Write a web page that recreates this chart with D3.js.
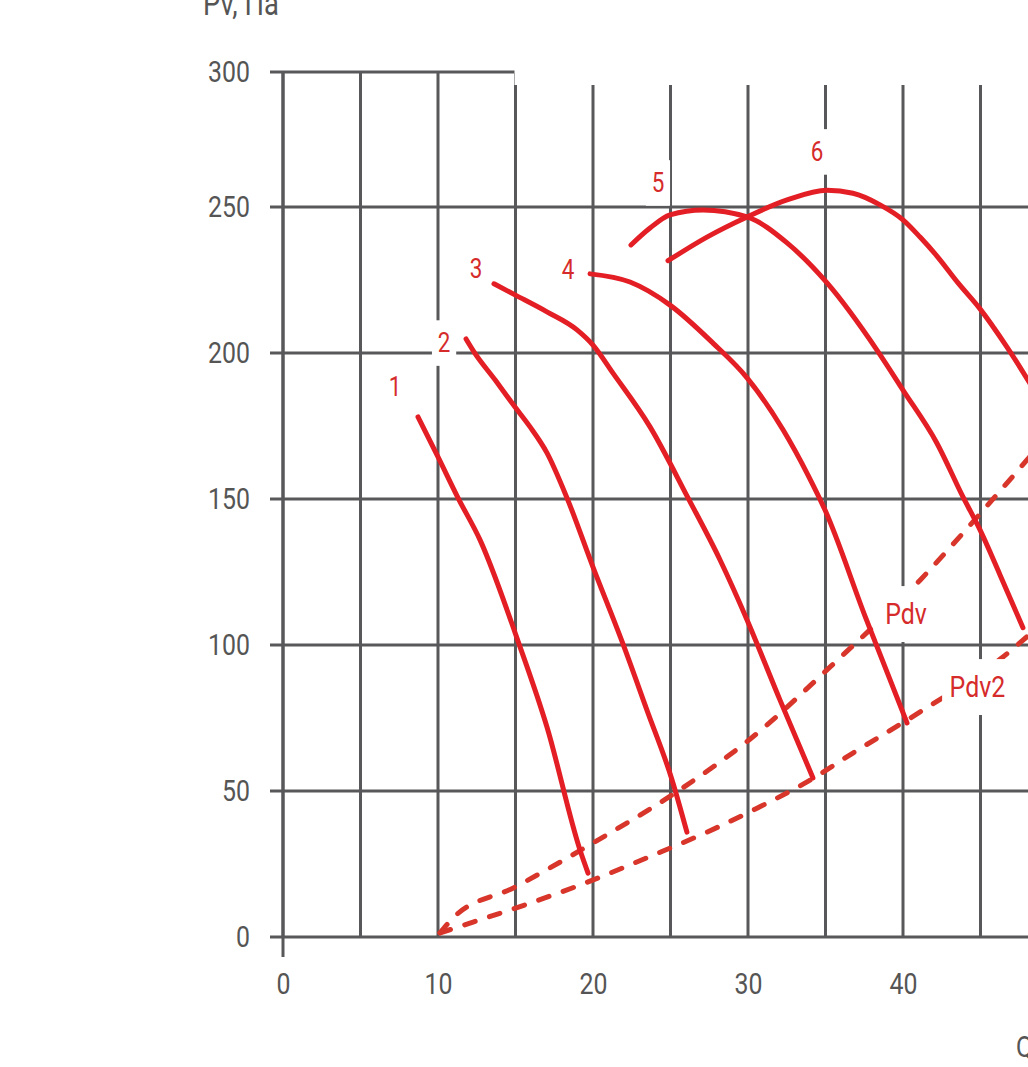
<!DOCTYPE html>
<html>
<head>
<meta charset="utf-8">
<script src="https://cdn.jsdelivr.net/npm/d3@7"></script>
<style>
  body { margin: 0; background: #fff; }
  svg { display: block; }
</style>
</head>
<body>
<div id="wrapper"></div>
<script>
// fan curves, Q (x) vs Pv (y, Pa)
const curve1 = [[8.71,178.1],[10,164.4],[11.29,150.4],[12.71,136.0],[15.23,100.3],[17.03,71.9],[19.16,29.8],[19.68,21.9]];
const curve2 = [[11.81,204.8],[12.32,200.4],[13.68,190.8],[14.97,181.5],[15.94,174.7],[17.03,165.8],[18.32,150.4],[20,126.7],[21.94,100.3],[23.48,77.7],[25.1,53.8],[26.06,35.9]];
const curve3 = [[13.61,223.7],[14.97,219.9],[17.03,214.1],[18.97,207.9],[20,202.7],[21.29,193.1],[23.68,174.7],[26.13,150.4],[28.19,129.2],[29.94,108.6],[32.06,81.2],[34.19,54.5]];
const curve4 = [[19.81,227.1],[22.39,224.3],[24.97,216.4],[27.74,203.4],[29.94,191.5],[32.26,173.7],[33.87,158.2],[34.97,146.2],[37.55,109.9],[40.26,73.3]];
const curve5 = [[22.45,237.0],[23.68,242.8],[24.97,247.3],[27.1,249.0],[29.94,246.6],[32.52,237.7],[35.1,224.0],[38.32,201.0],[40,187.3],[42.19,169.1],[43.87,150.7],[44.97,139.4],[46.26,124.0],[47.74,105.9]];
const curve6 = [[24.84,231.6],[27.35,239.7],[29.94,246.6],[32.52,252.6],[35.1,256.2],[36.77,255.1],[38.52,250.8],[40,245.6],[41.1,239.7],[42.19,233.2],[43.55,224.0],[44.97,215.1],[46.71,202.0],[48.84,184.0]];
const pdv  = [[10.13,1.4],[10.97,6.5],[14.97,17.1],[20,32.2],[25.6,50.4],[30.3,68.5],[35.3,92.5],[41.1,122.2],[44.5,142.1],[48,163.4],[50,175.8]];
const pdv2 = [[10.13,1.4],[12.26,5.1],[15.61,11.0],[19.16,17.8],[23.87,28.0],[27.35,35.9],[30.58,44.1],[33.81,53.1],[36.77,63.0],[41.29,77.7],[46.45,95.9],[48.8,106.6]];

const curveNames = ["1", "2", "3", "4", "5", "6"];
const curveLabelAt = [[7.23,188.4],[10.39,203.4],[12.45,228.8],[18.39,228.5],[24.19,258.9],[34.45,270.4]];
const lineNames = ["Pdv", "Pdv2"];
const lineLabelAt = [[40.2,110.6],[44.8,85.6]];

const xTicks = [0, 10, 20, 30, 40, 50];
const yTicks = [0, 50, 100, 150, 200, 250, 300];
const xGrid = d3.range(0, 51, 5);

const width = 1028, height = 1067;
const font = "Roboto, 'DejaVu Sans Condensed', sans-serif";
const sx = 0.83; // squeeze to mimic a condensed face
const gridColor = "#58585a";
const textColor = "#555";
const red = "#e31e25";
const redDash = "#d8352b";

const svg = d3.select("#wrapper")
  .append("svg")
  .attr("width", width)
  .attr("height", height);

const x = d3.scaleLinear().domain([0, 50]).range([283, 1058]);
// the scan has a shorter top band (250-300)
const y = d3.scaleLinear().domain([0, 250, 300]).range([937, 207, 72]);

// grid
svg.append("g")
  .selectAll("line")
  .data(xGrid)
  .join("line")
  .attr("x1", d => x(d)).attr("x2", d => x(d))
  .attr("y1", y(300)).attr("y2", y(0))
  .attr("stroke", gridColor).attr("stroke-width", 3);

svg.append("g")
  .selectAll("line")
  .data(yTicks)
  .join("line")
  .attr("x1", x(0) - 13).attr("x2", width + 40)
  .attr("y1", d => y(d)).attr("y2", d => y(d))
  .attr("stroke", gridColor).attr("stroke-width", 3);

// y axis line runs a bit below zero
svg.append("line")
  .attr("x1", x(0)).attr("x2", x(0))
  .attr("y1", y(300)).attr("y2", y(0) + 20)
  .attr("stroke", gridColor).attr("stroke-width", 3);

// blank strip at the top right of the scan
svg.append("rect")
  .attr("x", x(15) - 1).attr("y", 0)
  .attr("width", width).attr("height", 85)
  .attr("fill", "#fff");

// tick labels through d3 axes
const yAxis = svg.append("g")
  .attr("transform", `translate(${x(0)},0)`)
  .call(d3.axisLeft(y).tickValues(yTicks).tickSize(0).tickPadding(33));
const xAxis = svg.append("g")
  .attr("transform", `translate(0,${y(0)})`)
  .call(d3.axisBottom(x).tickValues(xTicks).tickSize(0).tickPadding(36));
[yAxis, xAxis].forEach(a => {
  a.select(".domain").remove();
  a.selectAll("text")
    .attr("font-family", font)
    .attr("font-size", 30)
    .attr("fill", textColor)
    .attr("x", function () { return (+this.getAttribute("x") || 0) / sx; })
    .attr("transform", `scale(${sx},1)`);
});

svg.append("text")
  .attr("transform", `translate(203,15) scale(${sx},1)`)
  .attr("font-family", font).attr("font-size", 33).attr("fill", textColor)
  .text("Pv, Па");

svg.append("text")
  .attr("transform", `translate(1016,1057) scale(${sx},1)`)
  .attr("font-family", font).attr("font-size", 30).attr("fill", textColor)
  .text("Q, м³/ч");

const line = d3.line()
  .x(d => x(d[0]))
  .y(d => y(d[1]))
  .curve(d3.curveMonotoneX);

// system lines (dashed)
svg.append("g")
  .selectAll("path")
  .data([pdv, pdv2])
  .join("path")
  .attr("d", line)
  .attr("fill", "none")
  .attr("stroke", redDash)
  .attr("stroke-width", 5)
  .attr("stroke-linecap", "round")
  .attr("stroke-dasharray", "11 15");

// fan curves
svg.append("g")
  .selectAll("path")
  .data([curve1, curve2, curve3, curve4, curve5, curve6])
  .join("path")
  .attr("d", line)
  .attr("fill", "none")
  .attr("stroke", red)
  .attr("stroke-width", 5)
  .attr("stroke-linecap", "round");

// labels with white boxes
function addLabel(txt, pos, size, padX, padY) {
  const g = svg.append("g")
    .attr("transform", `translate(${x(pos[0])},${y(pos[1])}) scale(${sx},1)`);
  const t = g.append("text")
    .attr("text-anchor", "middle")
    .attr("dominant-baseline", "central")
    .attr("font-family", font)
    .attr("font-size", size)
    .attr("fill", "#d62b2b")
    .text(txt);
  const b = t.node().getBBox();
  g.insert("rect", "text")
    .attr("x", b.x - padX).attr("y", b.y - padY)
    .attr("width", b.width + 2 * padX).attr("height", b.height + 2 * padY)
    .attr("fill", "#fff");
}
curveNames.forEach((n, i) => addLabel(n, curveLabelAt[i], 27, 7, 7));
lineNames.forEach((n, i) => addLabel(n, lineLabelAt[i], 30, 9, 10));
</script>
</body>
</html>
